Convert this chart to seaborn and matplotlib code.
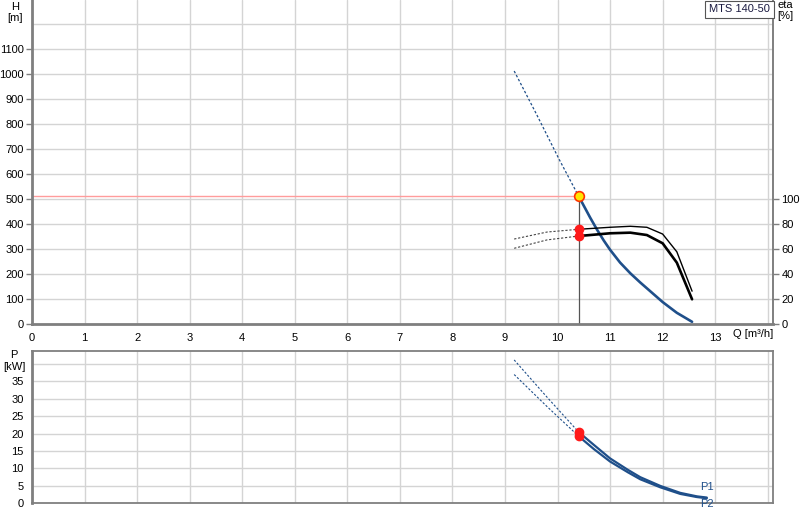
import matplotlib
matplotlib.use("Agg")
import matplotlib.pyplot as plt
import seaborn as sns

# ---------------- data ----------------
q_ticks = list(range(0, 14))
h_ticks = list(range(0, 1200, 100))
eta_ticks = list(range(0, 120, 20))
p_ticks = list(range(0, 40, 5))

# H curve (m)
h_q = [10.40, 10.50, 10.62, 10.75, 10.88, 11.00, 11.19, 11.385, 11.575,
       12.00, 12.27, 12.56]
h_val = [513, 474, 427, 379, 335, 298, 247, 204, 167, 89, 46, 10]
h_q_ext = [9.175, 9.60, 10.03, 10.40]
h_ext = [1013, 840, 660, 513]

# eta curves (%)
eta_q = [10.40, 11.00, 11.385, 11.70, 12.00, 12.27, 12.56]
eta_hi = [76.0, 77.6, 78.4, 77.6, 72.2, 58.0, 26.5]
eta_lo = [70.6, 72.8, 73.3, 71.4, 64.8, 49.3, 20.0]
eta_q_ext = [9.175, 9.80, 10.40]
eta_hi_ext = [68.2, 73.8, 76.0]
eta_lo_ext = [60.8, 67.5, 70.6]

# power curves (kW)
p_q = [10.40, 10.69, 11.00, 11.34, 11.575, 11.955, 12.335, 12.65, 12.84]
p1 = [20.5, 16.8, 12.9, 9.6, 7.5, 5.0, 3.0, 2.0, 1.65]
p2 = [19.3, 15.6, 12.0, 8.9, 6.9, 4.6, 2.7, 1.8, 1.45]
p_q_ext = [9.175, 9.80, 10.40]
p1_ext = [41.2, 30.5, 20.5]
p2_ext = [37.0, 27.8, 19.3]

# duty point
q_op = 10.40
h_op = 513

# ---------------- style ----------------
sns.set_style("white")
plt.rcParams['font.family'] = ['Liberation Sans', 'DejaVu Sans']
plt.rcParams['font.size'] = 8

BLUE = '#1f4f8a'
GRID = '#d4d4d4'
SPINE = '#7f7f7f'
W, H = 800, 520

fig = plt.figure(figsize=(8, 5.2), dpi=100)
ax = fig.add_axes([32 / W, 1 - 324.3 / H, 741 / W, 324.3 / H])
axe = ax.twinx()
axp = fig.add_axes([32 / W, 1 - 503.3 / H, 741 / W, 152.6 / H])

XMAX = 14.1
for a in (ax, axe, axp):
    a.set_xlim(0, XMAX)
ax.set_ylim(0, 1297)
axe.set_ylim(0, 259.4)
axp.set_ylim(0, 43.85)

# grids
for a in (ax, axp):
    a.set_axisbelow(True)
    for q in range(1, 15):
        a.axvline(q, color=GRID, lw=1, zorder=0)
for y in range(100, 1300, 100):
    ax.axhline(y, color=GRID, lw=1, zorder=0)
for y in range(5, 45, 5):
    axp.axhline(y, color=GRID, lw=1, zorder=0)

# ---------- top chart ----------
ax.plot([0, q_op], [h_op, h_op], color='#ff9c9c', lw=1, zorder=2)
ax.plot([q_op, q_op], [0, h_op], color='#555555', lw=0.9, zorder=2)

sns.lineplot(x=h_q_ext, y=h_ext, ax=ax, color=BLUE, lw=0.9,
             linestyle=(0, (2, 1.6)), sort=False, estimator=None, zorder=3)
sns.lineplot(x=h_q, y=h_val, ax=ax, color=BLUE, lw=1.9,
             sort=False, estimator=None, zorder=3)

sns.lineplot(x=eta_q_ext, y=eta_hi_ext, ax=axe, color='#444444', lw=0.8,
             linestyle=(0, (2, 1.6)), sort=False, estimator=None)
sns.lineplot(x=eta_q_ext, y=eta_lo_ext, ax=axe, color='#444444', lw=0.8,
             linestyle=(0, (2, 1.6)), sort=False, estimator=None)
sns.lineplot(x=eta_q, y=eta_hi, ax=axe, color='black', lw=1.0,
             sort=False, estimator=None)
sns.lineplot(x=eta_q, y=eta_lo, ax=axe, color='black', lw=1.9,
             sort=False, estimator=None)
axe.plot([q_op, q_op], [eta_hi[0], eta_lo[0]], 'o', color='#ff1a1a',
         ms=6, mec='#ff1a1a', zorder=6)
axe.plot([q_op], [h_op / 5.0], 'o', color='#ffe600', ms=7, mec='#ff3300',
         mew=1.2, zorder=7, clip_on=False)

# ---------- bottom chart ----------
sns.lineplot(x=p_q_ext, y=p1_ext, ax=axp, color=BLUE, lw=0.8,
             linestyle=(0, (2, 1.6)), sort=False, estimator=None)
sns.lineplot(x=p_q_ext, y=p2_ext, ax=axp, color=BLUE, lw=0.8,
             linestyle=(0, (2, 1.6)), sort=False, estimator=None)
sns.lineplot(x=p_q, y=p1, ax=axp, color=BLUE, lw=1.6,
             sort=False, estimator=None)
sns.lineplot(x=p_q, y=p2, ax=axp, color=BLUE, lw=1.6,
             sort=False, estimator=None)
axp.plot([q_op, q_op], [p1[0], p2[0]], 'o', color='#ff1a1a', ms=6,
         mec='#ff1a1a', zorder=6)
axp.text(12.71, 4.8, 'P1', color=BLUE, fontsize=8, ha='left', va='center')
axp.text(12.71, -0.3, 'P2', color=BLUE, fontsize=8, ha='left', va='center',
         clip_on=False)

# ---------- ticks & spines ----------
ax.set_xticks(q_ticks + [14])
ax.set_xticklabels([str(v) for v in q_ticks] + [''])
ax.set_yticks(h_ticks)
ax.set_yticklabels([str(v) for v in h_ticks])
axe.set_yticks(eta_ticks)
axe.set_yticklabels([str(v) for v in eta_ticks])
axp.set_yticks(p_ticks + [40])
axp.set_yticklabels([str(v) for v in p_ticks] + [''])
axp.set_xticks([])

for a in (ax, axe, axp):
    a.tick_params(length=4, width=1, color=SPINE, labelsize=8,
                  labelcolor='black', pad=2)
    a.set_xlabel('')
    a.set_ylabel('')
    a.grid(False)
    if a.get_legend():
        a.get_legend().remove()

ax.spines['top'].set_visible(False)
axe.spines['top'].set_visible(False)
ax.spines['right'].set_visible(False)
axe.spines['left'].set_visible(False)
axe.spines['bottom'].set_visible(False)
ax.spines['left'].set_color(SPINE)
ax.spines['left'].set_linewidth(2)
ax.spines['bottom'].set_color(SPINE)
ax.spines['bottom'].set_linewidth(2)
axe.spines['right'].set_color(SPINE)
axe.spines['right'].set_linewidth(1.4)

axp.spines['left'].set_color(SPINE)
axp.spines['left'].set_linewidth(2)
for s in ('top', 'right', 'bottom'):
    axp.spines[s].set_color(SPINE)
    axp.spines[s].set_linewidth(1.3)

# ---------- labels ----------
def ftext(x, y, s, **kw):
    fig.text(x / W, 1 - y / H, s, fontsize=8, color='black', **kw)

ftext(15, 7, 'H', ha='center', va='center')
ftext(15, 18, '[m]', ha='center', va='center')
ftext(785, 5, 'eta', ha='center', va='center')
ftext(785, 16, '[%]', ha='center', va='center')
ftext(14, 355, 'P', ha='center', va='center')
ftext(14, 367, '[kW]', ha='center', va='center')
ftext(733, 334, 'Q [m³/h]', ha='left', va='center')
fig.text(739.5 / W, 1 - 9.5 / H, 'MTS 140-50', fontsize=8, color='#1a1a40',
         ha='center', va='center',
         bbox=dict(boxstyle='square,pad=0.35', fc='white', ec='#555555', lw=0.8))

fig.savefig('out.png', dpi=100)
